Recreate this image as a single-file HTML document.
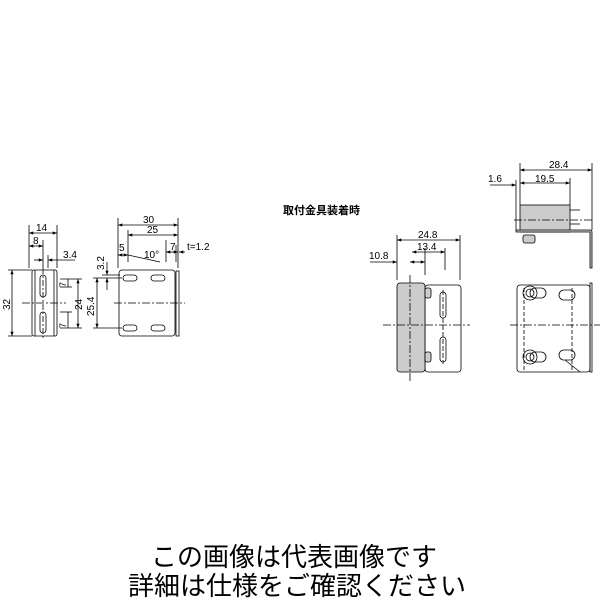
<!DOCTYPE html>
<html><head><meta charset="utf-8"><style>
body{margin:0;background:#fff}
svg{display:block}
text{font-family:"Liberation Sans","Noto Sans CJK JP",sans-serif;fill:#000}
</style></head><body>
<svg width="600" height="600" viewBox="0 0 600 600" xmlns="http://www.w3.org/2000/svg">
<defs><marker id="a" viewBox="0 0 8 6" refX="8" refY="3" markerWidth="6" markerHeight="4" orient="auto-start-reverse"><path d="M0,0L8,3L0,6z" fill="#000"/></marker></defs>
<g stroke="#000" stroke-width="0.8" fill="none">
<!-- left view -->
<rect x="32" y="270" width="25" height="66" rx="2" fill="#fff"/>
<line x1="35" y1="270" x2="35" y2="336"/><line x1="54" y1="270" x2="54" y2="336"/>
<rect x="40" y="275" width="6" height="22" rx="3"/><rect x="40" y="312" width="6" height="21" rx="3"/>
<line x1="22" y1="303" x2="66" y2="303" stroke-dasharray="8,2,2,2"/>
<line x1="43" y1="268" x2="43" y2="338" stroke-dasharray="6,2,2,2"/>
<line x1="29" y1="225" x2="29" y2="268"/><line x1="57" y1="225" x2="57" y2="268"/>
<line x1="29" y1="233" x2="57" y2="233" marker-start="url(#a)" marker-end="url(#a)"/>
<line x1="29" y1="246" x2="43" y2="246" marker-start="url(#a)" marker-end="url(#a)"/>
<line x1="43" y1="240" x2="43" y2="268"/><line x1="48" y1="255" x2="48" y2="268"/>
<line x1="34" y1="260" x2="43" y2="260" marker-end="url(#a)"/><line x1="75" y1="260" x2="48" y2="260" marker-end="url(#a)"/>
<line x1="8" y1="270" x2="32" y2="270"/><line x1="8" y1="336" x2="32" y2="336"/>
<line x1="12" y1="270" x2="12" y2="336" marker-start="url(#a)" marker-end="url(#a)"/>
<line x1="60" y1="279" x2="82" y2="279"/><line x1="60" y1="328" x2="82" y2="328"/>
<line x1="60" y1="287" x2="72" y2="287"/><line x1="60" y1="312" x2="72" y2="312"/>
<line x1="78" y1="279" x2="78" y2="328" marker-start="url(#a)" marker-end="url(#a)"/>
<line x1="68" y1="279" x2="68" y2="287"/><line x1="68" y1="312" x2="68" y2="328"/>
<!-- middle view -->
<rect x="119" y="270" width="56" height="66" rx="3" fill="#fff"/>
<rect x="176" y="271" width="3" height="65"/>
<rect x="123" y="275" width="14" height="6" rx="3"/><rect x="151" y="275" width="14" height="6" rx="3"/>
<rect x="123" y="325" width="14" height="6" rx="3"/><rect x="151" y="325" width="14" height="6" rx="3"/>
<line x1="114" y1="303" x2="185" y2="303" stroke-dasharray="8,2,2,2"/>
<line x1="118" y1="218" x2="118" y2="268"/><line x1="178" y1="218" x2="178" y2="268"/><line x1="128" y1="230" x2="128" y2="262"/><line x1="166" y1="240" x2="166" y2="262"/><line x1="176" y1="245" x2="176" y2="262"/>
<line x1="118" y1="225" x2="178" y2="225" marker-start="url(#a)" marker-end="url(#a)"/>
<line x1="128" y1="235" x2="178" y2="235" marker-start="url(#a)" marker-end="url(#a)"/>
<line x1="118" y1="255" x2="128" y2="255" marker-start="url(#a)" marker-end="url(#a)"/>
<line x1="166" y1="252" x2="178" y2="252" marker-start="url(#a)" marker-end="url(#a)"/>
<line x1="128" y1="255" x2="160" y2="262"/>
<line x1="185" y1="252" x2="179" y2="252" marker-end="url(#a)"/>
<line x1="93" y1="278" x2="122" y2="278"/><line x1="93" y1="328" x2="122" y2="328"/>
<line x1="97" y1="278" x2="97" y2="328" marker-start="url(#a)" marker-end="url(#a)"/>
<line x1="102" y1="275" x2="120" y2="275"/>
<line x1="107" y1="262" x2="107" y2="275" marker-end="url(#a)"/><line x1="107" y1="290" x2="107" y2="278" marker-end="url(#a)"/>
<!-- top right -->
<rect x="520" y="205" width="50" height="27" fill="#ccc"/>
<path d="M516 232H590V268H592V232Q592 230 590 230H516Z" fill="#ccc"/>
<rect x="523" y="235" width="12" height="8" rx="2" fill="#ccc"/>
<line x1="514" y1="220" x2="592" y2="220" stroke-dasharray="8,2,2,2"/>
<line x1="570" y1="210" x2="580" y2="210"/><line x1="570" y1="224" x2="580" y2="224"/>
<line x1="516" y1="180" x2="516" y2="230"/><line x1="520" y1="163" x2="520" y2="205"/><line x1="592" y1="163" x2="592" y2="230"/><line x1="570" y1="178" x2="570" y2="205"/>
<line x1="520" y1="170" x2="592" y2="170" marker-start="url(#a)" marker-end="url(#a)"/>
<line x1="520" y1="183" x2="570" y2="183" marker-start="url(#a)" marker-end="url(#a)"/>
<line x1="490" y1="185" x2="516" y2="185" marker-end="url(#a)"/>
<!-- bottom left -->
<rect x="425" y="285" width="36" height="87" rx="3" fill="#fff"/>
<rect x="397" y="283" width="28" height="89" rx="3" fill="#ccc"/>
<rect x="425" y="288" width="6" height="10" rx="2" fill="#ccc"/><rect x="425" y="352" width="6" height="10" rx="2" fill="#ccc"/>
<rect x="440" y="292" width="6" height="26" rx="3"/><rect x="440" y="337" width="6" height="25" rx="3"/>
<line x1="383" y1="325" x2="470" y2="325" stroke-dasharray="8,2,2,2"/>
<line x1="410" y1="275" x2="410" y2="382" stroke-dasharray="8,2,2,2"/>
<line x1="443" y1="290" x2="443" y2="364" stroke-dasharray="5,2"/>
<line x1="397" y1="235" x2="397" y2="280"/><line x1="460" y1="235" x2="460" y2="280"/><line x1="425" y1="248" x2="425" y2="275"/><line x1="445" y1="248" x2="445" y2="270"/>
<line x1="397" y1="240" x2="460" y2="240" marker-start="url(#a)" marker-end="url(#a)"/>
<line x1="412" y1="252" x2="445" y2="252" marker-start="url(#a)" marker-end="url(#a)"/>
<line x1="370" y1="262" x2="397" y2="262" marker-end="url(#a)"/><line x1="410" y1="262" x2="425" y2="262" marker-start="url(#a)" marker-end="url(#a)"/>
<!-- bottom right -->
<rect x="517" y="285" width="73" height="87" rx="3" fill="#fff"/>
<rect x="590" y="283" width="2" height="89"/>
<line x1="524" y1="288" x2="524" y2="370" stroke-dasharray="4,2"/><line x1="572" y1="288" x2="572" y2="370" stroke-dasharray="4,2"/>
<circle cx="530" cy="293" r="7"/><circle cx="530" cy="293" r="4"/>
<circle cx="530" cy="357" r="7"/><circle cx="530" cy="357" r="4"/>
<rect x="530" y="288" width="16" height="10" rx="5"/><rect x="530" y="352" width="16" height="10" rx="5"/>
<rect x="559" y="290" width="16" height="10" rx="5"/><rect x="559" y="350" width="16" height="10" rx="5"/>
<line x1="510" y1="325" x2="600" y2="325" stroke-dasharray="8,2,2,2"/>
<line x1="565" y1="360" x2="580" y2="372"/>
</g>
<g font-size="10">
<text x="36" y="231">14</text><text x="33" y="244">8</text><text x="63" y="258">3.4</text>
<text transform="translate(10,310) rotate(-90)">32</text>
<text transform="translate(82,310) rotate(-90)">24</text>
<text transform="translate(66,287) rotate(-90)" font-size="9">7</text>
<text transform="translate(66,328) rotate(-90)" font-size="9">7</text>
<text x="143" y="223">30</text><text x="147" y="233">25</text>
<text x="119" y="251">5</text><text x="144" y="258">10°</text><text x="170" y="250">7</text><text x="187" y="250">t=1.2</text>
<text transform="translate(94,316) rotate(-90)">25.4</text>
<text transform="translate(104,270) rotate(-90)">3.2</text>
<text x="549" y="168">28.4</text><text x="535" y="182">19.5</text><text x="488" y="182">1.6</text>
<text x="418" y="238">24.8</text><text x="417" y="250">13.4</text><text x="369" y="259">10.8</text>
<text x="283" y="214" font-weight="bold" font-size="11">取付金具装着時</text>
</g>
<text x="294" y="566" font-size="26" text-anchor="middle">この画像は代表画像です</text>
<text x="297" y="595" font-size="26" text-anchor="middle">詳細は仕様をご確認ください</text>
</svg>
</body></html>
